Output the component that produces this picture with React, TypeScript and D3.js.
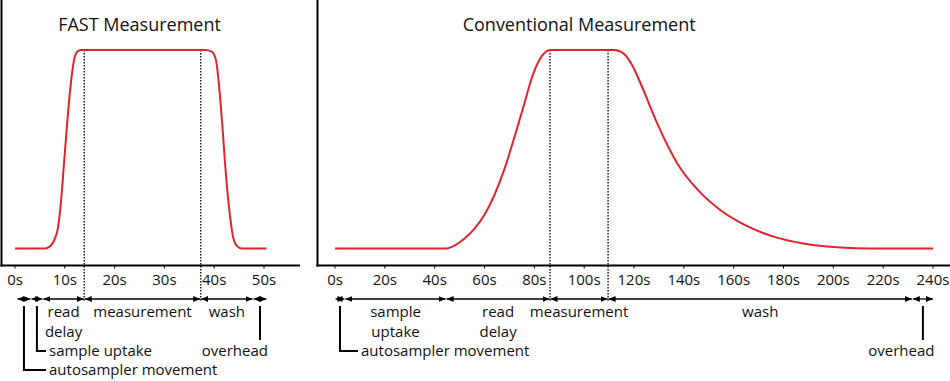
import React from 'react';
import * as d3 from 'd3';

// ---- data ----
const fastTime = [0, 6.0, 7.0, 8.0, 8.6, 9.1, 10.0, 11.0, 11.6, 12.05, 12.7, 13.4, 38.15, 39.5, 40.36, 40.8, 41.5, 42.5, 43.2, 43.8, 44.6, 45.5, 50.5];
const fastSignal = [0, 0, 1, 5, 10, 20, 48, 78, 91, 97, 99.6, 100, 100, 99.2, 94.9, 86.5, 66.2, 32.9, 15.8, 5.7, 1.2, 0, 0];

const convTime = [0, 44, 48, 52, 56, 60, 64, 68, 72, 76, 79, 82, 84.5, 86.5, 112, 116, 119, 122.7, 129.3, 137.3, 146, 155, 165, 176, 188, 203, 215, 240];
const convSignal = [0, 0, 1.5, 5, 10, 17, 27, 40, 56, 73, 86, 95, 99, 100, 100, 98, 93, 83, 63, 43, 29, 19, 11.5, 6, 2.5, 0.5, 0, 0];

const fastTicks = [0, 10, 20, 30, 40, 50];
const convTicks = [0, 20, 40, 60, 80, 100, 120, 140, 160, 180, 200, 220, 240];

// step boundaries (seconds): autosampler | sample uptake | read delay | measurement | wash | overhead
const fastBounds = [0.4, 3.2, 5.6, 13.9, 37.3, 47.8, 50.6];
const convBounds = [0, 4, 44.6, 86.3, 109.6, 231.7, 240.2];

const fastTitle = 'FAST Measurement';
const convTitle = 'Conventional Measurement';

const RED = '#e3232b';
const FONT = "'Open Sans', sans-serif";

const yTop = 50;
const yBase = 248.5;
const axisY = 265.5;
const arrowY = 299;

type Label =
  | { kind: 'inline'; step: number; lines: string[] }
  | { kind: 'leader'; step: number; text: string; textX: number; baseline: number }
  | { kind: 'leaderEnd'; step: number; text: string };

const fastLabels: Label[] = [
  { kind: 'leader', step: 0, text: 'autosampler movement', textX: 49, baseline: 375 },
  { kind: 'leader', step: 1, text: 'sample uptake', textX: 49, baseline: 356 },
  { kind: 'inline', step: 2, lines: ['read', 'delay'] },
  { kind: 'inline', step: 3, lines: ['measurement'] },
  { kind: 'inline', step: 4, lines: ['wash'] },
  { kind: 'leaderEnd', step: 5, text: 'overhead' },
];

const convLabels: Label[] = [
  { kind: 'leader', step: 0, text: 'autosampler movement', textX: 361, baseline: 356 },
  { kind: 'inline', step: 1, lines: ['sample', 'uptake'] },
  { kind: 'inline', step: 2, lines: ['read', 'delay'] },
  { kind: 'inline', step: 3, lines: ['measurement'] },
  { kind: 'inline', step: 4, lines: ['wash'] },
  { kind: 'leaderEnd', step: 5, text: 'overhead' },
];

function Panel(props: {
  id: string;
  domainMax: number;
  range: [number, number];
  time: number[];
  signal: number[];
  ticks: number[];
  bounds: number[];
  labels: Label[];
  title: string;
  titleAt: number;
  frameX: number;
  axisEnd: number;
}) {
  const { id, domainMax, range, time, signal, ticks, bounds, labels, title, titleAt, frameX, axisEnd } = props;
  const x = d3.scaleLinear().domain([0, domainMax]).range(range);
  const y = d3.scaleLinear().domain([0, 100]).range([yBase, yTop]);
  const line = d3
    .line<number>()
    .x((_, i) => x(time[i]))
    .y((d) => y(d))
    .curve(d3.curveMonotoneX);
  const path = line(signal) || '';
  const mId = `arrow-${id}`;
  return (
    <g>
      <defs>
        <marker
          id={mId}
          viewBox="0 0 7 6"
          refX={7}
          refY={3}
          markerWidth={7}
          markerHeight={6}
          markerUnits="userSpaceOnUse"
          orient="auto-start-reverse"
        >
          <path d="M0,0 L7,3 L0,6 Z" fill="#000" />
        </marker>
      </defs>
      {/* frame */}
      <line x1={frameX} x2={frameX} y1={0} y2={axisY + 1} stroke="#000" strokeWidth={2} />
      <line x1={frameX - 1} x2={axisEnd} y1={axisY} y2={axisY} stroke="#000" strokeWidth={2} />
      {/* title */}
      <text x={titleAt} y={31} textAnchor="middle" fontFamily={FONT} fontSize={18} fill="#111">
        {title}
      </text>
      {/* ticks */}
      {ticks.map((t) => (
        <g key={t}>
          <line x1={x(t)} x2={x(t)} y1={axisY} y2={axisY + 3} stroke="#000" strokeWidth={1} />
          <text x={x(t)} y={285} textAnchor="middle" fontFamily={FONT} fontSize={15} fill="#111">
            {`${t}s`}
          </text>
        </g>
      ))}
      {/* dotted measurement boundaries */}
      {[bounds[3], bounds[4]].map((t, i) => (
        <line
          key={i}
          x1={x(t)}
          x2={x(t)}
          y1={yTop}
          y2={arrowY + 2}
          stroke="#000"
          strokeWidth={1.3}
          strokeDasharray="1.5,1.5"
        />
      ))}
      {/* signal */}
      <path d={path} fill="none" stroke={RED} strokeWidth={2} />
      {/* step arrows */}
      {bounds.slice(0, -1).map((b, i) => (
        <line
          key={i}
          x1={x(b) + 0.5}
          x2={x(bounds[i + 1]) - 0.5}
          y1={arrowY}
          y2={arrowY}
          stroke="#000"
          strokeWidth={1.3}
          markerStart={`url(#${mId})`}
          markerEnd={`url(#${mId})`}
        />
      ))}
      {/* labels */}
      {labels.map((l, i) => {
        const x0 = x(bounds[l.step]);
        const x1 = x(bounds[l.step + 1]);
        const mid = (x0 + x1) / 2;
        if (l.kind === 'inline') {
          return (
            <g key={i}>
              {l.lines.map((s, j) => (
                <text
                  key={j}
                  x={mid}
                  y={317 + j * 19.5}
                  textAnchor="middle"
                  fontFamily={FONT}
                  fontSize={15}
                  fill="#111"
                >
                  {s}
                </text>
              ))}
            </g>
          );
        }
        if (l.kind === 'leader') {
          const cy = l.baseline - 5;
          return (
            <g key={i}>
              <path
                d={`M${mid},306 V${cy} H${l.textX - 3}`}
                fill="none"
                stroke="#000"
                strokeWidth={2}
              />
              <text x={l.textX} y={l.baseline} fontFamily={FONT} fontSize={15} fill="#111">
                {l.text}
              </text>
            </g>
          );
        }
        return (
          <g key={i}>
            <line x1={mid} x2={mid} y1={306} y2={340} stroke="#000" strokeWidth={2} />
            <text x={x1 + 1} y={356} textAnchor="end" fontFamily={FONT} fontSize={15} fill="#111">
              {l.text}
            </text>
          </g>
        );
      })}
    </g>
  );
}

export default function App() {
  const xFast = d3.scaleLinear().domain([0, 50]).range([15, 264]);
  const xConv = d3.scaleLinear().domain([0, 240]).range([335, 933]);
  return (
    <svg
      width={950}
      height={381}
      style={{ position: 'absolute', left: 0, top: 0, background: '#fff' }}
    >
      <rect width={950} height={381} fill="#fff" />
      <Panel
        id="fast"
        domainMax={50}
        range={[15, 264]}
        time={fastTime}
        signal={fastSignal}
        ticks={fastTicks}
        bounds={fastBounds}
        labels={fastLabels}
        title={fastTitle}
        titleAt={xFast(25)}
        frameX={1.5}
        axisEnd={300}
      />
      <Panel
        id="conv"
        domainMax={240}
        range={[335, 933]}
        time={convTime}
        signal={convSignal}
        ticks={convTicks}
        bounds={convBounds}
        labels={convLabels}
        title={convTitle}
        titleAt={xConv(98)}
        frameX={317.5}
        axisEnd={950}
      />
    </svg>
  );
}
